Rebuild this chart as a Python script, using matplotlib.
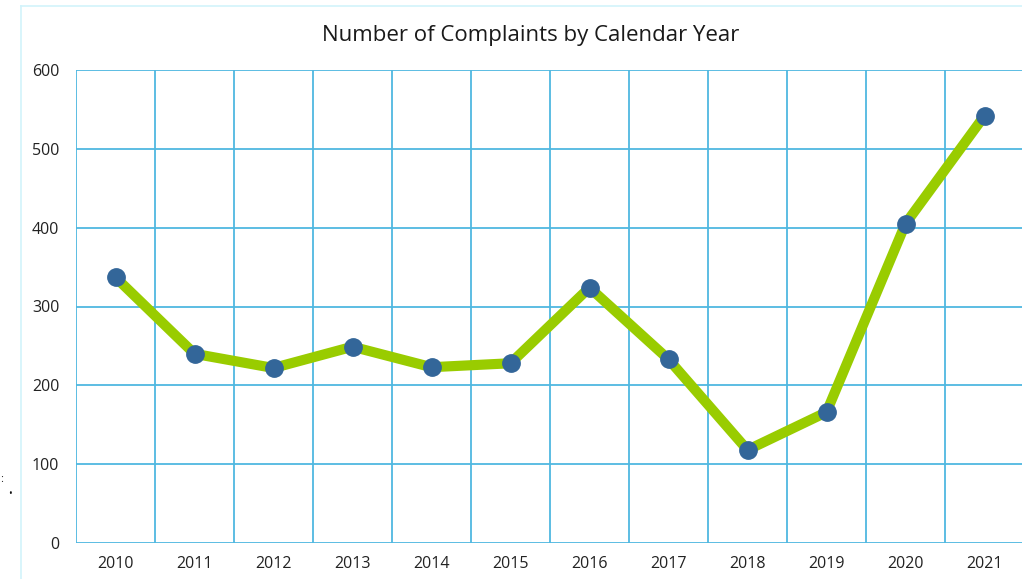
import matplotlib
matplotlib.use("Agg")
import matplotlib.pyplot as plt
from matplotlib.lines import Line2D

years = ["2010", "2011", "2012", "2013", "2014", "2015", "2016", "2017", "2018", "2019", "2020", "2021"]
complaints = [337, 240, 222, 249, 223, 228, 324, 233, 118, 166, 405, 542]
y_ticks = [0, 100, 200, 300, 400, 500, 600]
title = "Number of Complaints by Calendar Year"

plt.rcParams['font.family'] = ['Open Sans', 'DejaVu Sans']

W, H = 1022, 579
fig = plt.figure(figsize=(W / 100, H / 100), dpi=100)
left, right, top, bottom = 76, 1024, 70, 543
ax = fig.add_axes([left / W, 1 - bottom / H, (right - left) / W, (bottom - top) / H])

grid_c = "#4fb8e0"
x = list(range(len(years)))
ax.set_xlim(-0.5, len(years) - 0.5)
ax.set_ylim(0, 600)
for yv in y_ticks:
    ax.axhline(yv, color=grid_c, lw=1.3, zorder=1)
for i in range(len(years) + 1):
    ax.axvline(i - 0.5, color=grid_c, lw=1.3, zorder=1)

ax.plot(x, complaints, color="#99cc00", lw=7.3, zorder=3, solid_capstyle="round", solid_joinstyle="round")
ax.plot(x, complaints, ls="none", marker="o", ms=12.5, color="#336699", zorder=4)

ax.set_xticks(x)
ax.set_xticklabels(years)
ax.set_yticks(y_ticks)
ax.tick_params(length=0, labelsize=11.5, colors="#222222")
ax.tick_params(axis="x", pad=9)
ax.tick_params(axis="y", pad=12)
for s in ax.spines.values():
    s.set_visible(False)

fig.text(531 / W, 1 - 35 / H, title, ha="center", va="center", fontsize=16, color="#1a1a1a")

# outer light frame
fig.add_artist(Line2D([21 / W, 1], [1 - 6 / H, 1 - 6 / H], color="#d2f3fb", lw=1.2, transform=fig.transFigure))
fig.add_artist(Line2D([21 / W, 21 / W], [0, 1 - 6 / H], color="#d2f3fb", lw=1.2, transform=fig.transFigure))
fig.text(0.5 / W, 1 - 480 / H, ":", fontsize=8, color="#222222", va="center")
fig.text(8 / W, 1 - 494 / H, "•", fontsize=7, color="#111111", va="center")

fig.savefig("out.png", dpi=100)
